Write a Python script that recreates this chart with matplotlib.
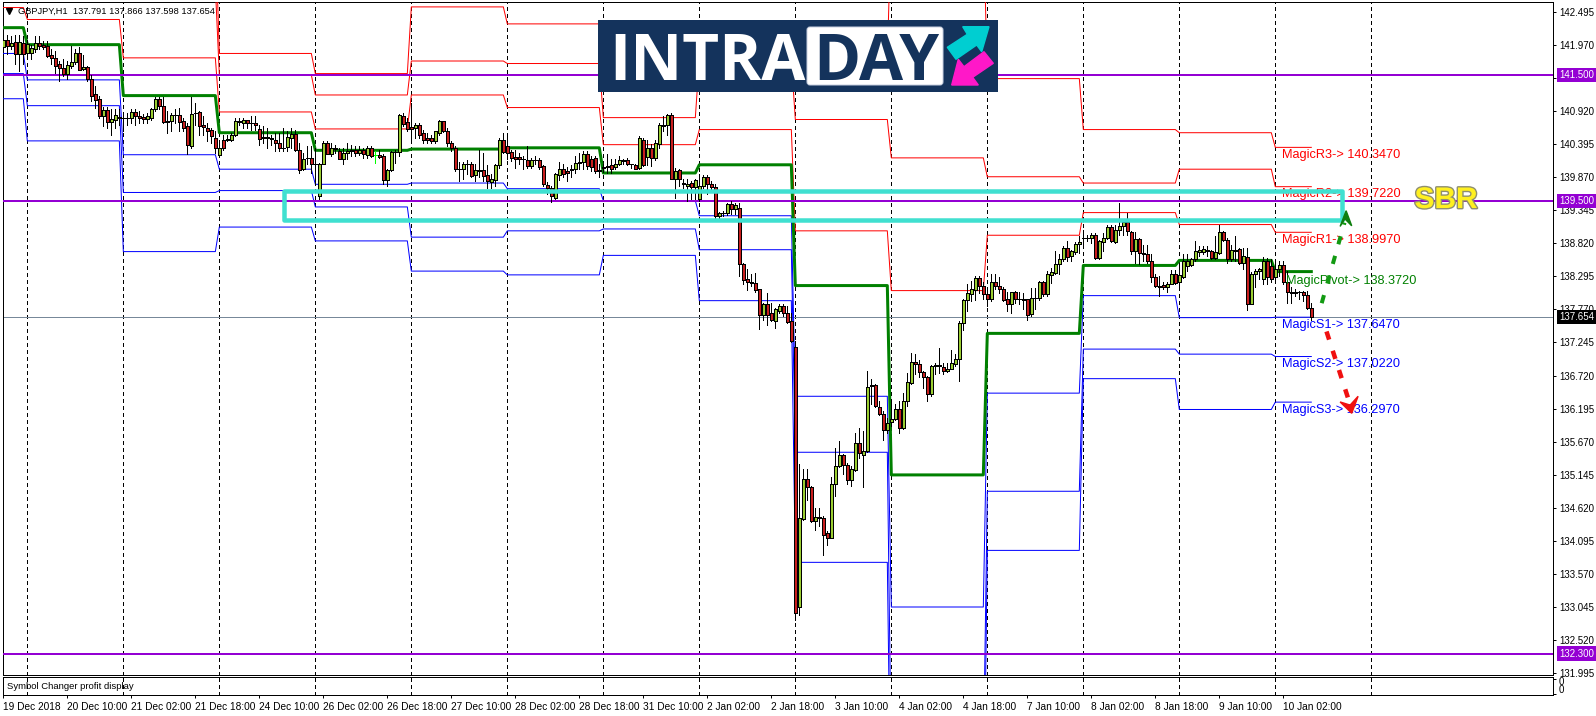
import matplotlib
matplotlib.use('Agg')
import matplotlib.pyplot as plt
import matplotlib.patheffects as pe
from matplotlib.patches import FancyBboxPatch, Rectangle

# GBPJPY H1 bars
opens = [
    141.95, 142.06, 141.96, 142.02, 141.83, 142.01, 141.84, 141.84, 141.91, 142.01,
    141.97, 141.96, 141.81, 141.77, 141.67, 141.61, 141.52, 141.64, 141.70, 141.84,
    141.59, 141.63, 141.43, 141.19, 141.11, 140.85, 140.94, 140.75, 140.79, 140.81,
    140.82, 140.82, 140.82, 140.91, 140.85, 140.83, 140.80, 140.82, 140.95, 141.11,
    141.00, 140.76, 140.77, 140.86, 140.86, 140.76, 140.68, 140.37, 140.90, 140.91,
    140.71, 140.66, 140.62, 140.50, 140.22, 140.47, 140.48, 140.47, 140.55, 140.76,
    140.74, 140.78, 140.74, 140.73, 140.64, 140.51, 140.50, 140.50, 140.47, 140.41,
    140.34, 140.35, 140.50, 140.56, 140.30, 140.01, 140.18, 140.18, 140.08, 139.57,
    140.09, 140.42, 140.24, 140.34, 140.29, 140.17, 140.25, 140.29, 140.30, 140.26,
    140.30, 140.22, 140.34, 140.22, 140.22, 140.21, 139.83, 139.99, 140.27, 140.27,
    140.85, 140.75, 140.67, 140.66, 140.71, 140.57, 140.50, 140.49, 140.45, 140.58,
    140.76, 140.61, 140.42, 140.34, 140.01, 140.00, 140.08, 140.08, 139.90, 139.98,
    139.98, 139.90, 139.79, 139.83, 140.06, 140.47, 140.37, 140.27, 140.19, 140.19,
    140.17, 140.14, 140.05, 140.14, 140.14, 140.05, 139.75, 139.70, 139.55, 139.91,
    140.01, 139.97, 139.98, 140.00, 140.10, 140.12, 140.24, 140.17, 140.18, 139.97,
    140.02, 140.03, 140.06, 140.04, 140.09, 140.13, 140.15, 140.08, 140.07, 140.02,
    140.47, 140.19, 140.33, 140.18, 140.40, 140.69, 140.70, 140.86, 139.84, 139.98,
    139.78, 139.74, 139.78, 139.71, 139.53, 139.73, 139.88, 139.77, 139.72, 139.26,
    139.30, 139.30, 139.45, 139.36, 139.39, 138.50, 138.25, 138.20, 138.19, 138.09,
    137.68, 137.85, 137.71, 137.59, 137.74, 137.83, 137.72, 137.58, 137.18, 133.04,
    134.44, 135.08, 134.94, 134.41, 134.47, 134.46, 134.21, 134.14, 134.99, 135.28,
    135.45, 135.29, 135.06, 135.22, 135.65, 135.45, 135.52, 136.56, 136.57, 136.22,
    136.11, 135.85, 135.98, 136.03, 136.19, 135.89, 136.31, 136.60, 136.94, 136.91,
    136.78, 136.70, 136.42, 136.87, 136.88, 136.86, 136.79, 136.83, 136.91, 136.98,
    137.56, 137.92, 138.01, 138.08, 138.27, 138.15, 138.01, 137.93, 138.21, 138.15,
    138.10, 137.93, 137.86, 138.04, 137.94, 137.94, 137.93, 137.70, 137.95, 137.95,
    138.20, 138.01, 138.32, 138.35, 138.50, 138.57, 138.74, 138.62, 138.68, 138.81,
    138.90, 138.91, 138.90, 138.96, 138.59, 138.84, 138.91, 139.08, 138.85, 139.03,
    139.09, 139.16, 139.00, 138.70, 138.89, 138.66, 138.65, 138.54, 138.29, 138.15,
    138.16, 138.12, 138.18, 138.34, 138.21, 138.29, 138.46, 138.47, 138.57, 138.69,
    138.68, 138.71, 138.70, 138.59, 138.67, 139.00, 138.88, 138.57, 138.70, 138.73,
    138.51, 138.61, 137.86, 138.34, 138.38, 138.25, 138.54, 138.46, 138.29, 138.41,
    138.48, 138.21, 138.05, 138.05, 138.04, 138.05, 138.00, 137.791,
]
highs = [
    142.14, 142.14, 142.12, 142.14, 142.14, 142.12, 142.06, 141.98, 142.11, 142.12,
    142.04, 142.04, 141.91, 141.88, 141.72, 141.75, 141.72, 141.96, 141.91, 141.95,
    141.81, 141.64, 141.49, 141.32, 141.16, 140.99, 140.99, 140.95, 140.95, 140.95,
    140.90, 140.90, 140.95, 140.95, 140.92, 140.87, 140.90, 140.98, 141.14, 141.15,
    141.14, 140.92, 140.90, 140.95, 140.98, 140.82, 140.74, 141.14, 141.06, 140.92,
    140.85, 140.74, 140.66, 140.61, 140.47, 140.55, 140.55, 140.58, 140.82, 140.82,
    140.82, 140.79, 140.85, 140.85, 140.70, 140.69, 140.66, 140.55, 140.58, 140.58,
    140.66, 140.61, 140.66, 140.63, 140.42, 140.25, 140.37, 140.37, 140.34, 140.10,
    140.45, 140.45, 140.42, 140.39, 140.34, 140.34, 140.42, 140.39, 140.37, 140.37,
    140.34, 140.37, 140.37, 140.29, 140.31, 140.24, 140.00, 140.29, 140.31, 140.87,
    140.90, 140.82, 141.05, 140.74, 140.74, 140.63, 140.58, 140.55, 140.61, 140.79,
    140.77, 140.66, 140.45, 140.37, 140.11, 140.11, 140.15, 140.11, 140.09, 140.31,
    140.25, 140.06, 139.92, 140.08, 140.50, 140.58, 140.53, 140.31, 140.31, 140.26,
    140.21, 140.37, 140.18, 140.21, 140.18, 140.06, 139.79, 139.73, 139.94, 140.11,
    140.08, 140.04, 140.06, 140.21, 140.26, 140.29, 140.29, 140.21, 140.21, 140.08,
    140.09, 140.24, 140.16, 140.16, 140.21, 140.16, 140.18, 140.09, 140.09, 140.53,
    140.50, 140.47, 140.40, 140.47, 140.74, 140.85, 140.87, 140.89, 140.02, 140.00,
    139.85, 139.85, 139.81, 139.84, 139.92, 139.90, 139.90, 139.81, 139.76, 139.32,
    139.33, 139.47, 139.49, 139.47, 139.47, 138.51, 138.41, 138.33, 138.35, 138.09,
    137.88, 138.03, 137.88, 137.80, 137.85, 137.85, 137.82, 137.72, 137.27, 135.31,
    135.23, 135.24, 134.96, 134.61, 134.61, 134.49, 134.25, 135.11, 135.57, 135.68,
    135.48, 135.33, 135.28, 135.81, 135.89, 135.84, 136.79, 136.66, 136.58, 136.31,
    136.15, 136.05, 136.34, 136.27, 136.31, 136.45, 136.76, 137.08, 137.07, 136.97,
    136.79, 136.72, 136.88, 136.92, 137.16, 136.92, 136.92, 137.13, 137.06, 137.58,
    137.94, 138.17, 138.23, 138.31, 138.31, 138.20, 138.08, 138.34, 138.34, 138.29,
    138.12, 138.04, 138.05, 138.06, 138.04, 138.03, 137.94, 138.11, 138.11, 138.22,
    138.22, 138.38, 138.43, 138.70, 138.65, 138.78, 138.86, 138.72, 138.84, 138.94,
    139.04, 138.96, 138.99, 138.99, 138.88, 138.99, 139.11, 139.11, 139.11, 139.46,
    139.20, 139.30, 139.02, 139.00, 138.91, 138.80, 138.80, 138.65, 138.33, 138.30,
    138.20, 138.21, 138.40, 138.40, 138.51, 138.65, 138.65, 138.59, 138.86, 138.78,
    138.78, 138.78, 138.71, 138.94, 139.11, 139.02, 138.91, 138.80, 138.94, 138.75,
    138.75, 138.75, 138.37, 138.41, 138.43, 138.61, 138.59, 138.57, 138.54, 138.54,
    138.54, 138.38, 138.12, 138.09, 138.06, 138.06, 138.06, 137.866,
]
lows = [
    141.88, 141.83, 141.91, 141.67, 141.56, 141.67, 141.77, 141.75, 141.86, 141.91,
    141.91, 141.79, 141.67, 141.53, 141.40, 141.48, 141.43, 141.61, 141.67, 141.58,
    141.58, 141.40, 141.08, 140.98, 140.82, 140.68, 140.66, 140.55, 140.66, 140.70,
    140.61, 140.71, 140.73, 140.71, 140.74, 140.74, 140.73, 140.79, 140.92, 140.95,
    140.74, 140.58, 140.61, 140.74, 140.61, 140.61, 140.24, 140.34, 140.71, 140.55,
    140.55, 140.45, 140.42, 140.25, 140.21, 140.31, 140.45, 140.45, 140.53, 140.71,
    140.66, 140.66, 140.63, 140.63, 140.39, 140.42, 140.34, 140.39, 140.29, 140.29,
    140.29, 140.29, 140.34, 140.29, 139.94, 139.99, 140.08, 139.94, 139.76, 139.52,
    140.08, 140.24, 140.21, 140.26, 140.16, 140.08, 140.16, 140.21, 140.21, 140.22,
    140.18, 140.18, 140.20, 140.10, 140.18, 139.76, 139.73, 139.97, 140.10, 140.21,
    140.68, 140.61, 140.47, 140.50, 140.50, 140.42, 140.42, 140.42, 140.42, 140.55,
    140.59, 140.37, 140.29, 139.97, 139.81, 139.84, 139.92, 139.88, 139.81, 139.87,
    139.81, 139.70, 139.70, 139.73, 140.02, 140.26, 140.16, 140.13, 140.02, 140.08,
    140.00, 140.02, 140.02, 140.08, 140.00, 139.73, 139.60, 139.48, 139.52, 139.83,
    139.88, 139.81, 139.88, 139.94, 140.01, 140.00, 140.00, 139.97, 139.94, 139.88,
    139.95, 139.94, 139.94, 140.01, 140.06, 140.09, 140.06, 140.02, 140.00, 140.00,
    140.05, 140.06, 140.05, 140.15, 140.34, 140.61, 140.55, 139.84, 139.55, 139.73,
    139.70, 139.49, 139.52, 139.52, 139.49, 139.70, 139.60, 139.63, 139.23, 139.23,
    139.25, 139.27, 139.28, 139.28, 138.31, 138.17, 138.08, 138.14, 138.04, 137.46,
    137.61, 137.53, 137.58, 137.48, 137.72, 137.67, 137.56, 137.25, 132.84, 132.92,
    134.43, 134.74, 134.39, 134.27, 134.33, 133.87, 134.03, 134.13, 134.81, 135.27,
    135.15, 135.00, 134.97, 135.20, 135.41, 134.95, 135.50, 136.26, 136.22, 136.10,
    135.69, 135.81, 135.92, 136.02, 135.81, 135.87, 136.23, 136.59, 136.74, 136.70,
    136.52, 136.31, 136.40, 136.74, 136.76, 136.74, 136.77, 136.82, 136.87, 136.63,
    137.45, 137.74, 137.90, 137.92, 138.03, 137.93, 137.82, 137.90, 138.09, 138.03,
    137.90, 137.74, 137.71, 137.88, 137.85, 137.77, 137.61, 137.67, 137.77, 137.92,
    137.98, 137.98, 138.19, 138.33, 138.34, 138.54, 138.54, 138.54, 138.65, 138.67,
    138.80, 138.86, 138.83, 138.57, 138.57, 138.70, 138.89, 138.84, 138.82, 138.96,
    138.96, 138.96, 138.65, 138.51, 138.49, 138.54, 138.51, 138.21, 138.12, 137.98,
    138.09, 138.05, 138.17, 138.17, 138.14, 138.27, 138.38, 138.46, 138.54, 138.62,
    138.65, 138.62, 138.57, 138.57, 138.65, 138.86, 138.51, 138.54, 138.54, 138.49,
    138.41, 137.76, 137.85, 138.12, 138.25, 138.17, 138.17, 138.20, 138.20, 138.30,
    138.17, 137.88, 137.88, 137.98, 137.93, 137.90, 137.78, 137.598,
]
closes = [
    142.06, 141.96, 142.01, 141.83, 142.02, 141.83, 141.99, 141.92, 142.01, 141.96,
    141.95, 141.80, 141.77, 141.64, 141.61, 141.52, 141.66, 141.71, 141.84, 141.58,
    141.62, 141.43, 141.17, 141.10, 140.85, 140.94, 140.75, 140.80, 140.86, 140.83,
    140.82, 140.82, 140.91, 140.85, 140.82, 140.80, 140.85, 140.95, 141.11, 141.00,
    140.75, 140.75, 140.86, 140.86, 140.75, 140.66, 140.38, 140.88, 140.90, 140.69,
    140.67, 140.61, 140.52, 140.33, 140.33, 140.33, 140.47, 140.55, 140.77, 140.75,
    140.78, 140.74, 140.73, 140.71, 140.48, 140.49, 140.51, 140.48, 140.41, 140.34,
    140.34, 140.51, 140.56, 140.30, 139.99, 140.17, 140.18, 140.09, 140.08, 140.09,
    140.41, 140.24, 140.34, 140.32, 140.17, 140.26, 140.29, 140.31, 140.25, 140.30,
    140.24, 140.33, 140.21, 140.22, 140.20, 139.83, 139.99, 140.27, 140.27, 140.86,
    140.72, 140.64, 140.64, 140.71, 140.55, 140.47, 140.47, 140.45, 140.60, 140.77,
    140.61, 140.41, 140.33, 140.00, 140.00, 140.09, 140.09, 139.89, 139.98, 139.97,
    139.89, 139.81, 139.84, 140.07, 140.46, 140.27, 140.25, 140.18, 140.17, 140.17,
    140.16, 140.05, 140.14, 140.14, 140.04, 139.76, 139.70, 139.57, 139.92, 140.01,
    139.93, 139.94, 140.00, 140.10, 140.11, 140.24, 140.05, 140.04, 139.97, 139.98,
    140.03, 140.05, 140.00, 140.09, 140.14, 140.14, 140.08, 140.09, 140.01, 140.50,
    140.06, 140.33, 140.18, 140.41, 140.70, 140.71, 140.86, 139.84, 139.97, 139.85,
    139.76, 139.77, 139.71, 139.83, 139.73, 139.88, 139.76, 139.72, 139.26, 139.31,
    139.30, 139.44, 139.36, 139.43, 138.49, 138.24, 138.21, 138.19, 138.08, 137.68,
    137.85, 137.69, 137.60, 137.77, 137.83, 137.71, 137.57, 137.27, 132.95, 134.46,
    135.08, 134.94, 134.41, 134.47, 134.45, 134.19, 134.14, 135.00, 135.28, 135.45,
    135.29, 135.06, 135.23, 135.65, 135.49, 135.52, 136.54, 136.57, 136.23, 136.11,
    135.85, 135.97, 136.03, 136.19, 135.89, 136.32, 136.62, 136.93, 136.90, 136.78,
    136.70, 136.42, 136.87, 136.88, 136.87, 136.79, 136.83, 136.92, 136.99, 137.55,
    137.92, 138.03, 138.09, 138.27, 138.14, 138.01, 137.94, 138.21, 138.14, 138.10,
    137.92, 137.85, 138.04, 137.93, 137.93, 137.92, 137.69, 137.96, 137.96, 138.20,
    138.01, 138.33, 138.36, 138.50, 138.57, 138.74, 138.61, 138.70, 138.81, 138.85,
    138.91, 138.90, 138.95, 138.59, 138.86, 138.91, 139.08, 138.86, 139.03, 139.09,
    139.16, 139.02, 138.70, 138.89, 138.66, 138.65, 138.54, 138.29, 138.14, 138.13,
    138.12, 138.18, 138.34, 138.19, 138.32, 138.54, 138.54, 138.57, 138.70, 138.71,
    138.73, 138.70, 138.59, 138.68, 139.00, 138.88, 138.57, 138.71, 138.72, 138.51,
    138.62, 137.86, 138.34, 138.38, 138.41, 138.54, 138.28, 138.26, 138.41, 138.48,
    138.21, 138.05, 138.03, 138.03, 138.05, 138.00, 137.80, 137.654,
]

# daily pivot levels, 15 sessions
pivot = [142.25, 141.98, 141.17, 140.58, 140.30, 140.32, 140.34, 139.94, 140.07, 138.15, 135.14, 137.39, 138.47, 138.55, 138.372]
r1 = [142.57, 142.38, 141.77, 140.91, 140.64, 141.18, 140.98, 140.39, 140.63, 139.02, 138.07, 138.95, 139.31, 139.12, 138.997]
r2 = [143.50, 143.20, 142.90, 141.50, 141.18, 141.72, 141.68, 140.82, 141.75, 140.79, 140.18, 139.88, 139.78, 140.00, 139.722]
r3 = [144.00, 144.00, 143.80, 141.84, 141.52, 142.58, 142.31, 141.75, 142.14, 141.75, 144.00, 141.44, 140.63, 140.58, 140.347]
s1 = [141.84, 141.42, 140.23, 140.00, 139.76, 139.78, 139.69, 139.50, 139.26, 136.39, 133.04, 136.44, 137.99, 137.64, 137.647]
s2 = [141.52, 141.01, 139.63, 139.66, 139.40, 138.92, 139.02, 139.05, 138.72, 135.50, 130.50, 134.88, 137.14, 137.06, 137.022]
s3 = [141.12, 140.45, 138.69, 139.08, 138.86, 138.38, 138.32, 138.63, 137.91, 133.75, 129.00, 133.94, 136.67, 136.18, 136.297]

hline_levels = [141.5, 139.5, 132.3]
last_price = 137.654

y_ticks = [142.495, 141.970, 141.445, 140.920, 140.395, 139.870, 139.345, 138.820, 138.295, 137.770, 137.245,
           136.720, 136.195, 135.670, 135.145, 134.620, 134.095, 133.570, 133.045, 132.520, 131.995]
time_labels = ['19 Dec 2018', '20 Dec 10:00', '21 Dec 02:00', '21 Dec 18:00', '24 Dec 10:00', '26 Dec 02:00',
               '26 Dec 18:00', '27 Dec 10:00', '28 Dec 02:00', '28 Dec 18:00', '31 Dec 10:00', '2 Jan 02:00',
               '2 Jan 18:00', '3 Jan 10:00', '4 Jan 02:00', '4 Jan 18:00', '7 Jan 10:00', '8 Jan 02:00',
               '8 Jan 18:00', '9 Jan 10:00', '10 Jan 02:00']

level_labels = [('MagicR3-> 140.3470', 140.347, 'red'), ('MagicR2-> 139.7220', 139.722, 'red'),
                ('MagicR1-> 138.9970', 138.997, 'red'), ('MagicPivot-> 138.3720', 138.372, 'green'),
                ('MagicS1-> 137.6470', 137.647, 'blue'), ('MagicS2-> 137.0220', 137.022, 'blue'),
                ('MagicS3-> 136.2970', 136.297, 'blue')]

W, H = 1596, 716
PX = 0.72  # one pixel in points at dpi 100
UP = '#9ACD32'
DOWN = '#C81E1E'
PURPLE = '#9400D3'
NAVY = '#14335C'
plt.rc('font', family=['Liberation Sans', 'DejaVu Sans'], size=7)

fig = plt.figure(figsize=(W / 100, H / 100), dpi=100, facecolor='white')


def add_px_axes(left, top, right, bottom):
    return fig.add_axes([left / W, 1 - bottom / H, (right - left) / W, (bottom - top) / H])


ax = add_px_axes(2.7, 2, 1553.3, 675)
ax2 = add_px_axes(2.7, 677.3, 1553.3, 695.3)
xlim = (-0.16, 387.5)
ax.set_xlim(xlim)
ax.set_ylim(131.959, 142.658)
ax2.set_xlim(xlim)
ax2.set_ylim(0, 1)

seps = list(range(6, 343, 24))
for a in (ax, ax2):
    a.vlines(seps, 0, 1, transform=a.get_xaxis_transform(), color='black', lw=PX,
             linestyle=(0, (4, 3)), zorder=1, antialiased=False)
    for s in a.spines.values():
        s.set_linewidth(PX)

# horizontal levels
ax.hlines(hline_levels, 0, 1, transform=ax.get_yaxis_transform(), color=PURPLE, lw=2 * PX, zorder=3.5)
ax.axhline(last_price, color='#778899', lw=PX, zorder=2)


def level_path(levels):
    xs, ys = [0], [levels[0]]
    for i, s in enumerate(seps[:len(levels) - 1]):
        xs += [s - 1, s]
        ys += [levels[i], levels[i + 1]]
    xs.append(len(opens) - 1)
    ys.append(levels[-1])
    return xs, ys


for levels in (r1, r2, r3):
    ax.plot(*level_path(levels), color='#FF0000', lw=PX, zorder=3)
for levels in (s1, s2, s3):
    ax.plot(*level_path(levels), color='#0000FF', lw=PX, zorder=3)
ax.plot(*level_path(pivot), color='#008000', lw=3 * PX, zorder=3)

# candles
idx = list(range(len(opens)))
wick_colors = ['#00FF00' if i == 93 else 'black' for i in idx]
ax.vlines(idx, lows, highs, color=wick_colors, lw=PX, zorder=4, antialiased=False)
bottoms = [min(o, c) for o, c in zip(opens, closes)]
heights = [abs(o - c) for o, c in zip(opens, closes)]
body_colors = [UP if c >= o else DOWN for o, c in zip(opens, closes)]
edge_colors = ['#00FF00' if i == 93 else 'black' for i in idx]
ax.bar(idx, heights, bottom=bottoms, width=0.7, color=body_colors, edgecolor=edge_colors,
       linewidth=PX, zorder=4.5, antialiased=False)

# indicator texts
for txt, lev, col in level_labels:
    k = 320.7 if 'Pivot' in txt else 319.6
    dy = -9 if 'Pivot' in txt else -7.5
    ax.annotate(txt, (k, lev), xytext=(0, dy * PX), textcoords='offset points', color=col,
                fontsize=9.2, va='center', ha='left', zorder=5)

# support/resistance box
ax.add_patch(Rectangle((70.2, 139.19), 264.5, 0.47, fill=False, ec='#40E0D0', lw=4.5 * PX,
                       joinstyle='round', zorder=6))

# dashed forecast arrows
ax.plot([329.6, 335.3], [137.87, 139.15], color='#129A12', lw=4 * PX, linestyle=(0, (2.1, 3)), zorder=7)
ax.fill([335.7, 334.2, 335.4, 337.1], [139.34, 139.09, 139.21, 139.10], color='#0E7E0E', zorder=7)
ax.plot([330.8, 336.6], [137.42, 136.28], color='#F01010', lw=4.5 * PX, linestyle=(0, (1.9, 2.6)), zorder=7)
ax.fill([337.1, 334.2, 336.7, 338.7], [136.12, 136.30, 136.25, 136.39], color='#F01010', zorder=7)

ax.text(352.8, 139.51, 'SBR', color='#FFF020', fontsize=21.5, fontweight='bold', va='center', ha='left',
        zorder=8, path_effects=[pe.withStroke(linewidth=2, foreground='#8F8F70')])

# top-left chart caption
ax.plot([1.5], [142.515], marker='v', ms=4.2, color='black', zorder=8)
ax.text(3.7, 142.515, 'GBPJPY,H1  137.791 137.866 137.598 137.654', fontsize=6.7, va='center', ha='left', zorder=8)

# price axis
ax.yaxis.tick_right()
ax.set_yticks(y_ticks)
ax.set_yticklabels([f'{t:.3f}' for t in y_ticks], fontsize=7)
ax.tick_params(axis='y', length=3 * PX, width=PX, pad=2, color='black')
ax.set_xticks([])

for lev, bg in zip(hline_levels + [last_price], [PURPLE, PURPLE, PURPLE, 'black']):
    ax.text(1.0037, lev, f'{lev:.3f}', transform=ax.get_yaxis_transform(), color='white', fontsize=7,
            va='center', ha='left', zorder=9, clip_on=False,
            bbox=dict(boxstyle='square,pad=0.22', fc=bg, ec=bg, lw=0))

# indicator sub window
ax2.text(0.0028, 0.5, 'Symbol Changer profit display', transform=ax2.transAxes, fontsize=6.8, va='center', ha='left', zorder=8)
ax2.set_yticks([0.08, 0.92])
ax2.set_yticklabels([])
ax2.yaxis.tick_right()
ax2.tick_params(axis='y', length=3 * PX, width=PX)
for yy in (0.72, 0.3):
    ax2.text(1.0037, yy, '0', transform=ax2.transAxes, fontsize=7, va='center', ha='left', clip_on=False)

ax2.set_xticks([16 * i for i in range(len(time_labels))])
ax2.set_xticklabels(time_labels, ha='left', fontsize=7.3)
ax2.tick_params(axis='x', length=3 * PX, width=PX, pad=2.5)

# logo
logo = add_px_axes(598, 20, 998, 91.7)
logo.set_xlim(0, 400)
logo.set_ylim(71.7, 0)
logo.axis('off')
logo.set_zorder(10)
logo.add_patch(Rectangle((0, 0), 400, 71.7, fc=NAVY, ec='none'))
logo.add_patch(FancyBboxPatch((212, 10), 130, 52, boxstyle='round,pad=3,rounding_size=3', fc='white', ec='#C8D0E0', lw=PX))
logo.text(109.5, 36, 'INTRA', color='white', family='Open Sans', fontweight='bold', fontsize=46, ha='center', va='center_baseline')
logo.text(278.4, 36, 'DAY', color=NAVY, family='Open Sans', fontweight='bold', fontsize=46, ha='center', va='center_baseline')
logo.fill([391, 364.7, 369.3, 349.3, 358, 378.7, 383.7], [6.7, 6.7, 14.3, 27.3, 39.3, 25, 31.7], color='#00CED1')
logo.fill([353.7, 380.3, 374.7, 395.3, 386, 366, 360.3], [65, 65, 57.3, 43.3, 31.7, 46.7, 39.3], color='#FF18C8')

fig.savefig('out.png', dpi=100)
